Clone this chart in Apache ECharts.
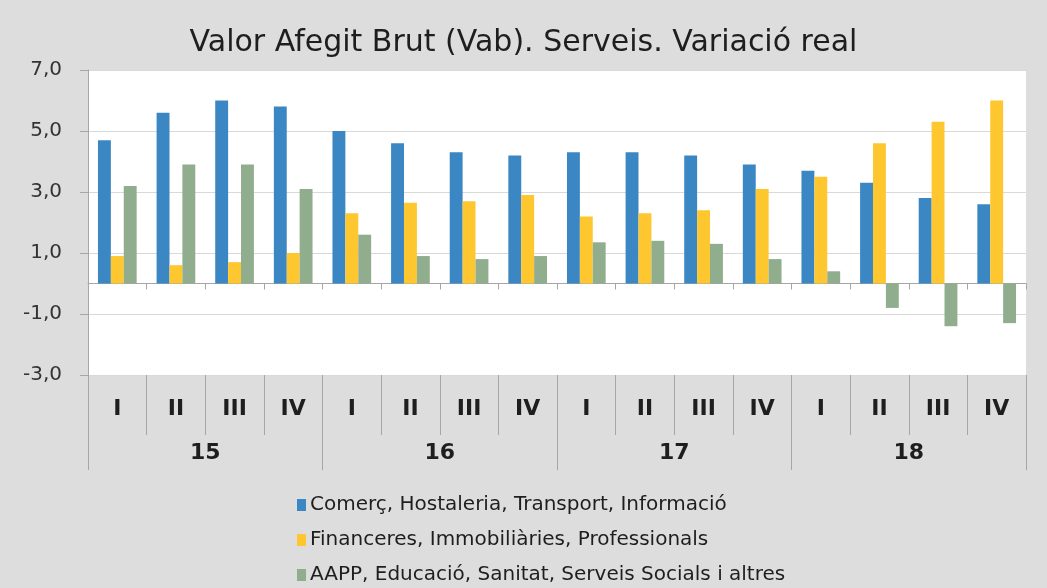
<!DOCTYPE html>
<html>
<head>
<meta charset="utf-8">
<title>Valor Afegit Brut (Vab). Serveis. Variació real</title>
<script src="https://cdn.jsdelivr.net/npm/echarts@6/dist/echarts.min.js"></script>
<style>
    html, body { margin: 0; padding: 0; background: #dddddd; }
    #chart { width: 1047px; height: 588px; }
</style>
</head>
<body>
<div id="chart"></div>
<script>
// dades llegides del gràfic
const quarters = ['I', 'II', 'III', 'IV', 'I', 'II', 'III', 'IV', 'I', 'II', 'III', 'IV', 'I', 'II', 'III', 'IV']
const years = ['15', '16', '17', '18']
const comerc = [4.7, 5.6, 6.0, 5.8, 5.0, 4.6, 4.3, 4.2, 4.3, 4.3, 4.2, 3.9, 3.7, 3.3, 2.8, 2.6]
const financeres = [0.9, 0.6, 0.7, 1.0, 2.3, 2.65, 2.7, 2.9, 2.2, 2.3, 2.4, 3.1, 3.5, 4.6, 5.3, 6.0]
const aapp = [3.2, 3.9, 3.9, 3.1, 1.6, 0.9, 0.8, 0.9, 1.35, 1.4, 1.3, 0.8, 0.4, -0.8, -1.4, -1.3]
const seriesNames = [
    'Comerç, Hostaleria, Transport, Informació',
    'Financeres, Immobiliàries, Professionals',
    'AAPP, Educació, Sanitat, Serveis Socials i altres'
]
const yTicks = { min: -3, max: 7, step: 2 }

const lineGray = '#a6a6a6'

let myChart = echarts.init(document.getElementById('chart'))

function barSerie(name, data) {
    return {
        name: name,
        type: 'bar',
        xAxisIndex: 0,
        data: data,
        barGap: '0%',
        barCategoryGap: '34%'
    }
}

let option = {
    backgroundColor: '#dddddd',
    color: ['#3b87c3', '#fec72f', '#90ad8e'],
    title: {
        text: 'Valor Afegit Brut (Vab). Serveis. Variació real',
        left: 'center',
        top: 23,
        textStyle: {
            fontFamily: 'DejaVu Sans',
            fontSize: 30,
            fontWeight: 'normal',
            color: '#1e1e1e'
        }
    },
    grid: {
        left: 88,
        right: 21,
        top: 70,
        bottom: 213,
        show: true,
        backgroundColor: '#ffffff',
        borderWidth: 0
    },
    legend: {
        orient: 'vertical',
        left: 297,
        top: 495,
        height: 96,
        padding: 0,
        itemWidth: 9,
        itemHeight: 12,
        itemGap: 15,
        icon: 'rect',
        textStyle: {
            fontFamily: 'DejaVu Sans',
            fontSize: 20,
            color: '#1e1e1e',
            padding: [0, 0, 0, -1]
        },
        data: seriesNames
    },
    xAxis: [{
        // fila dels trimestres
        type: 'category',
        data: quarters,
        position: 'bottom',
        axisLine: { show: false, onZero: false },
        axisTick: { show: true, interval: 0, length: 60, lineStyle: { color: lineGray } },
        axisLabel: {
            interval: 0,
            margin: 23,
            fontFamily: 'DejaVu Sans',
            fontSize: 22,
            fontWeight: 'bold',
            color: '#1e1e1e'
        },
        splitLine: { show: false }
    }, {
        // línia del zero
        type: 'category',
        data: quarters,
        position: 'bottom',
        axisLine: { show: true, onZero: true, lineStyle: { color: lineGray } },
        axisTick: { show: true, interval: 0, length: 6, lineStyle: { color: lineGray } },
        axisLabel: { show: false },
        splitLine: { show: false }
    }, {
        // fila dels anys
        type: 'category',
        data: years,
        position: 'bottom',
        offset: 60,
        axisLine: { show: false, onZero: false },
        axisTick: { show: true, interval: 0, length: 35, lineStyle: { color: lineGray } },
        axisLabel: {
            interval: 0,
            margin: 7,
            fontFamily: 'DejaVu Sans',
            fontSize: 22,
            fontWeight: 'bold',
            color: '#1e1e1e'
        },
        splitLine: { show: false }
    }],
    yAxis: {
        type: 'value',
        min: yTicks.min,
        max: yTicks.max,
        interval: yTicks.step,
        axisLine: { show: true, lineStyle: { color: lineGray } },
        axisTick: { show: true, length: 8, lineStyle: { color: lineGray } },
        axisLabel: {
            margin: 26,
            fontFamily: 'DejaVu Sans',
            fontSize: 20,
            color: '#333333',
            formatter: function(v) { return v.toFixed(1).replace('.', ',') }
        },
        splitLine: { lineStyle: { color: '#d9d9d9' } }
    },
    series: [
        barSerie(seriesNames[0], comerc),
        barSerie(seriesNames[1], financeres),
        barSerie(seriesNames[2], aapp)
    ]
}

myChart.setOption(option)
</script>
</body>
</html>
